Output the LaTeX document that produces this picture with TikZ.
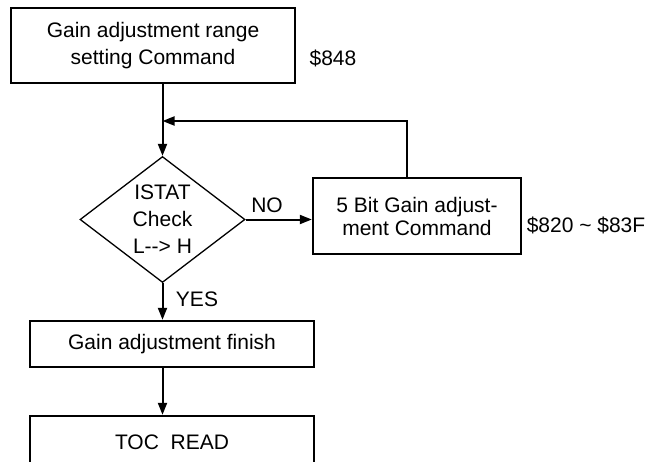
\documentclass[tikz,border=0pt]{standalone}
\usepackage{fontspec}
\setmainfont{Liberation Sans}
\usetikzlibrary{shapes.geometric}
\usetikzlibrary{arrows.meta}
\usetikzlibrary{positioning}

\begin{document}
\begin{tikzpicture}[x=1pt, y=-1pt, >={Triangle[length=12pt,width=9pt]},
			every node/.style={font=\fontsize{21}{27}\selectfont},
			internal/.style={draw, rectangle, line width=2.4pt, inner sep=0pt, align=center},
			decision/.style={draw, diamond, line width=1.3pt, minimum width=165pt, minimum height=126pt, inner sep=0pt}]
			\useasboundingbox (0,0) rectangle (652,461);
			
			\node[internal, minimum width=284pt, minimum height=75pt](node1) at (153,45.5) {Gain adjustment range \\ setting Command};
			\node(addr1) at (333,58) {\$848};
			
			\node[decision](node2) at (162.5,219.5) {};
			\node[align=center](node2text) at (node2) {ISTAT \\ Check \\ L{-}{-}> H};
			\draw[->, line width=2pt] (node2.north |- node1.south) -- (node2.north);
			
			\node[internal, minimum width=208pt, minimum height=76pt, font=\fontsize{21}{23}\selectfont](node3) at (417,216) {5 Bit Gain adjust- \\ ment Command};
			\node(addr2) at (586,225) {\$820 \textasciitilde{} \$83F};
			\node(no) at (267,205) {NO};
			\draw[->, line width=2pt] (node2.east) -- (node2.east -| node3.west);
			
			\coordinate (loop) at (407,121);
			\draw[->, line width=2pt] (node3.north -| loop) |- (node2.north |- loop);
			
			\node[internal, minimum width=284pt, minimum height=46pt](node4) at (172,344) {Gain adjustment finish};
			\node(yes) at (197,299) {YES};
			\draw[->, line width=2pt] (node2.south) -- (node2.south |- node4.north);
			
			\node[internal, minimum width=284pt, minimum height=52pt](node5) at (172,442) {TOC\ \ READ};
			\draw[->, line width=2pt] (node2.south |- node4.south) -- (node2.south |- node5.north);
			\end{tikzpicture}
\end{document}
